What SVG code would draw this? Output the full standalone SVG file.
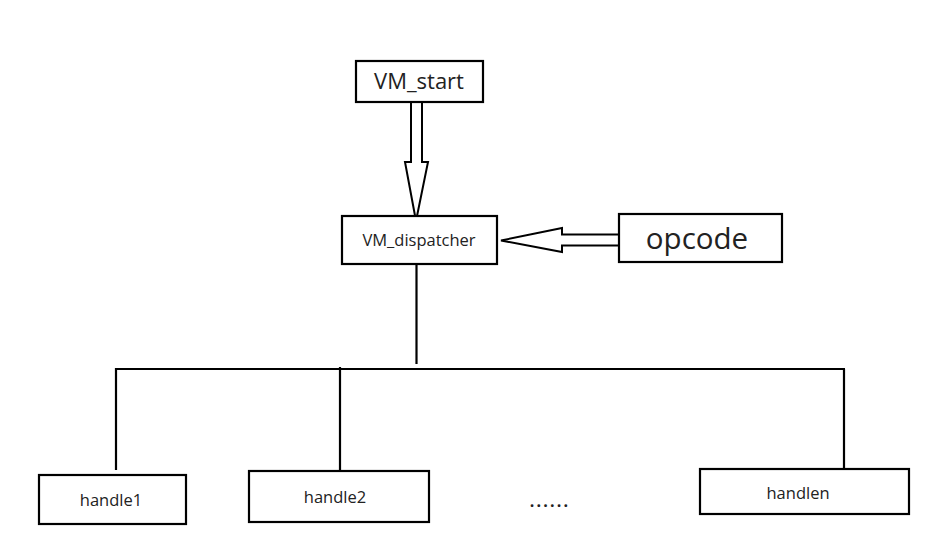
<svg xmlns="http://www.w3.org/2000/svg" width="927" height="542" viewBox="0 0 927 542">
<style>
.box{fill:#fff;stroke:#000;stroke-width:2.2}
.ln{fill:none;stroke:#000;stroke-width:2.2}
.ar{fill:#fff;stroke:#000;stroke-width:2}
text{font-family:"Open Sans","Noto Sans","DejaVu Sans",sans-serif;fill:#222;text-anchor:middle}
.h{font-size:16.5px}
</style>
<rect width="927" height="542" fill="#fff"/>
<g id="connectors">
<polygon class="ar" points="411,102 422,102 422,162 428,162 416,221 405,162 411,162"/>
<polygon class="ar" points="623,234.5 562,234.5 562,228 501,240.5 562,252 562,245.5 623,245.5"/>
<path class="ln" d="M416.5,264 V364 M116,470 V369 H845 M340,367 V476 M844,369 V473"/>
</g>
<g id="vm_start">
<rect class="box" x="356" y="61" width="127" height="41"/>
<text x="419" y="89" font-size="22">VM_start</text>
</g>
<g id="vm_dispatcher">
<rect class="box" x="342" y="216" width="155" height="48"/>
<text x="419" y="246" font-size="16.5">VM_dispatcher</text>
</g>
<g id="opcode">
<rect class="box" x="619" y="214" width="163" height="48"/>
<text x="697" y="249" font-size="29.5">opcode</text>
</g>
<g id="handle1">
<rect class="box" x="39" y="475" width="147" height="49"/>
<text class="h" x="111" y="506">handle1</text>
</g>
<g id="handle2">
<rect class="box" x="249" y="471" width="180" height="51"/>
<text class="h" x="335" y="503">handle2</text>
</g>
<g id="handlen">
<rect class="box" x="700" y="469" width="209" height="45"/>
<text class="h" x="798" y="499">handlen</text>
</g>
<g id="ellipsis">
<text x="550" y="507" font-size="16" font-weight="bold" letter-spacing="2.2">......</text>
</g>
</svg>
